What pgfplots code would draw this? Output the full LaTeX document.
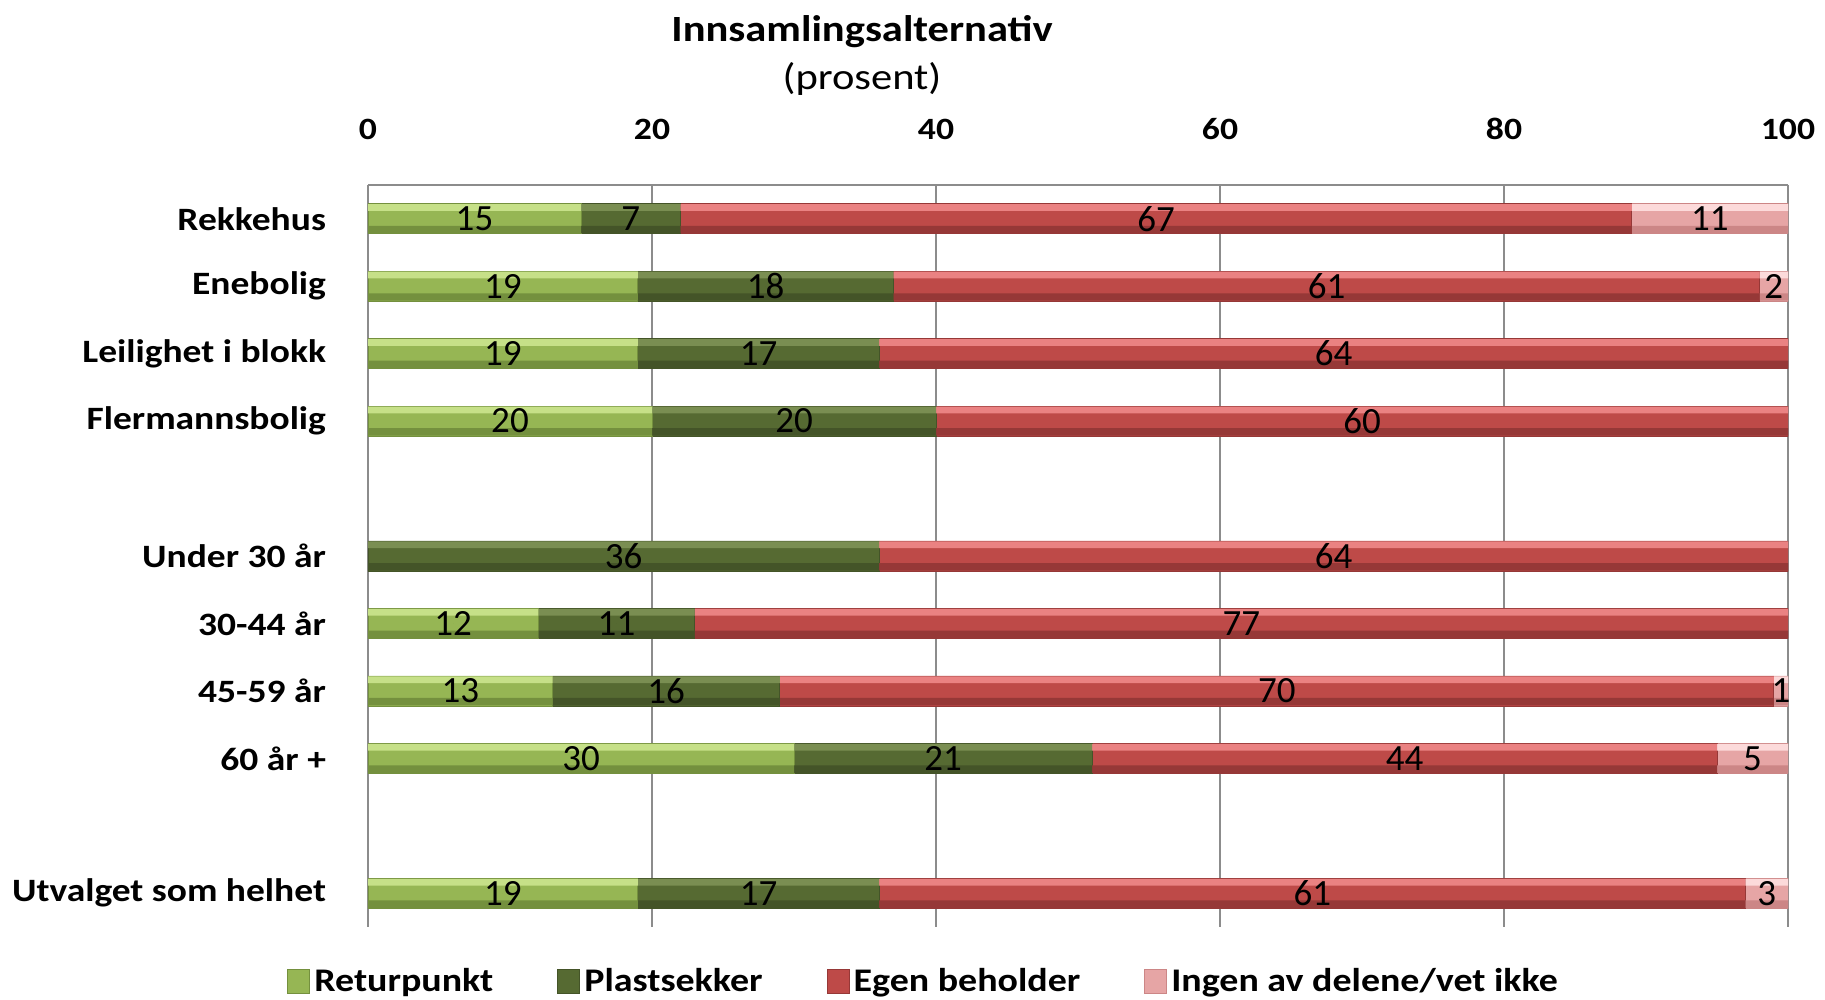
\documentclass[border=0pt]{standalone}
\usepackage{fontspec}
\setmainfont{Carlito}[FakeStretch=1.15]
\newfontfamily\numfont{Carlito}
\usepackage{pgfplots}
\pgfplotsset{compat=1.18}
\usepackage{pgfplotstable}

\definecolor{retlight}{RGB}{198,224,136}
\definecolor{retmid}{RGB}{150,182,84}
\definecolor{retdark}{RGB}{116,144,62}
\definecolor{plalight}{RGB}{122,142,82}
\definecolor{plamid}{RGB}{86,106,50}
\definecolor{pladark}{RGB}{68,84,40}
\definecolor{egnlight}{RGB}{234,130,130}
\definecolor{egnmid}{RGB}{190,74,72}
\definecolor{egndark}{RGB}{150,56,55}
\definecolor{inglight}{RGB}{252,218,218}
\definecolor{ingmid}{RGB}{230,165,165}
\definecolor{ingdark}{RGB}{204,134,134}
\definecolor{gridgray}{RGB}{140,140,140}

% pos, returpunkt, plastsekker, egen beholder, ingen/vet ikke
\pgfplotstableread{
pos a  b  c  d
0   15 7  67 11
1   19 18 61 2
2   19 17 64 0
3   20 20 60 0
5   0  36 64 0
6   12 11 77 0
7   13 16 70 1
8   30 21 44 5
10  19 17 61 3
}\data

\pgfplotsset{
  frame/.style={
    scale only axis, width=710pt, height=371pt,
    xmin=0, xmax=100, ymin=-0.5, ymax=10.5, y dir=reverse
  },
  % thin strips over the bars for the bevelled look
  strip/.style 2 args={
    frame, hide axis, xbar stacked, bar width=#1, bar shift=#2
  },
  lbl/.style={
    only marks, mark=*, mark size=0pt, nodes near coords,
    point meta=explicit,
    /pgf/number format/assume math mode=true,
    nodes near coords style={anchor=center, text=black,
      font=\numfont\fontsize{18.5}{21}\selectfont}
  }
}

\begin{document}
\begin{tikzpicture}
\useasboundingbox (-184pt,-36.5pt) rectangle (728.5pt,463.5pt);
\begin{axis}[
  frame,
  xbar stacked, bar width=0.445,
  axis x line*=top, axis y line*=left,
  axis line style={gridgray, line width=1pt},
  xmajorgrids, grid style={gridgray, line width=1pt},
  major tick length=0pt,
  xtick={0,20,40,60,80,100},
  xticklabels={0,20,40,60,80,100},
  xticklabel style={font=\fontsize{15.5}{17}\selectfont\bfseries, yshift=19pt},
  ytick={0,1,2,3,5,6,7,8,10},
  yticklabels={Rekkehus,Enebolig,Leilighet i blokk,Flermannsbolig,Under 30 år,30-44 år,45-59 år,60 år +,Utvalget som helhet},
  yticklabel style={font=\fontsize{16.3}{19}\selectfont\bfseries, xshift=-17.5pt},
  legend columns=4,
  legend style={draw=none, at={(0.392,-0.0728)}, anchor=center,
    font=\fontsize{16.5}{19}\selectfont\bfseries,
    /tikz/every even column/.append style={column sep=30pt}},
  legend image code/.code={\draw[#1, line width=0.5pt] (0pt,-6pt) rectangle (11pt,6pt);},
]
\addplot[fill=retmid, draw=retdark, line width=0.4pt] table[x=a, y=pos] {\data};
\addplot[fill=plamid, draw=pladark, line width=0.4pt] table[x=b, y=pos] {\data};
\addplot[fill=egnmid, draw=egndark, line width=0.4pt] table[x=c, y=pos] {\data};
\addplot[fill=ingmid, draw=ingdark, line width=0.4pt] table[x=d, y=pos] {\data};
\legend{Returpunkt,Plastsekker,Egen beholder,Ingen av delene/vet ikke}
\end{axis}
% light strip along the top of each bar
\begin{axis}[strip={0.1}{-0.165}]
\addplot[fill=retlight, draw=none] table[x=a, y=pos] {\data};
\addplot[fill=plalight, draw=none] table[x=b, y=pos] {\data};
\addplot[fill=egnlight, draw=none] table[x=c, y=pos] {\data};
\addplot[fill=inglight, draw=none] table[x=d, y=pos] {\data};
\end{axis}
% dark strip along the bottom of each bar
\begin{axis}[strip={0.11}{0.16}]
\addplot[fill=retdark, draw=none] table[x=a, y=pos] {\data};
\addplot[fill=pladark, draw=none] table[x=b, y=pos] {\data};
\addplot[fill=egndark, draw=none] table[x=c, y=pos] {\data};
\addplot[fill=ingdark, draw=none] table[x=d, y=pos] {\data};
\end{axis}
\begin{axis}[frame, hide axis, clip=false]
\addplot[lbl] table[x expr={\thisrow{a}>0 ? \thisrow{a}/2 : nan}, y=pos, meta=a] {\data};
\addplot[lbl] table[x expr={\thisrow{b}>0 ? \thisrow{a}+\thisrow{b}/2 : nan}, y=pos, meta=b] {\data};
\addplot[lbl] table[x expr={\thisrow{c}>0 ? \thisrow{a}+\thisrow{b}+\thisrow{c}/2 : nan}, y=pos, meta=c] {\data};
\addplot[lbl] table[x expr={\thisrow{d}>0 ? \thisrow{a}+\thisrow{b}+\thisrow{c}+\thisrow{d}/2 : nan}, y=pos, meta=d] {\data};
\end{axis}
\node[font=\fontsize{18.5}{22}\selectfont\bfseries] at (247pt,447.5pt) {Innsamlingsalternativ};
\node[font=\fontsize{18.5}{22}\selectfont] at (247pt,424pt) {(prosent)};
\end{tikzpicture}
\end{document}
